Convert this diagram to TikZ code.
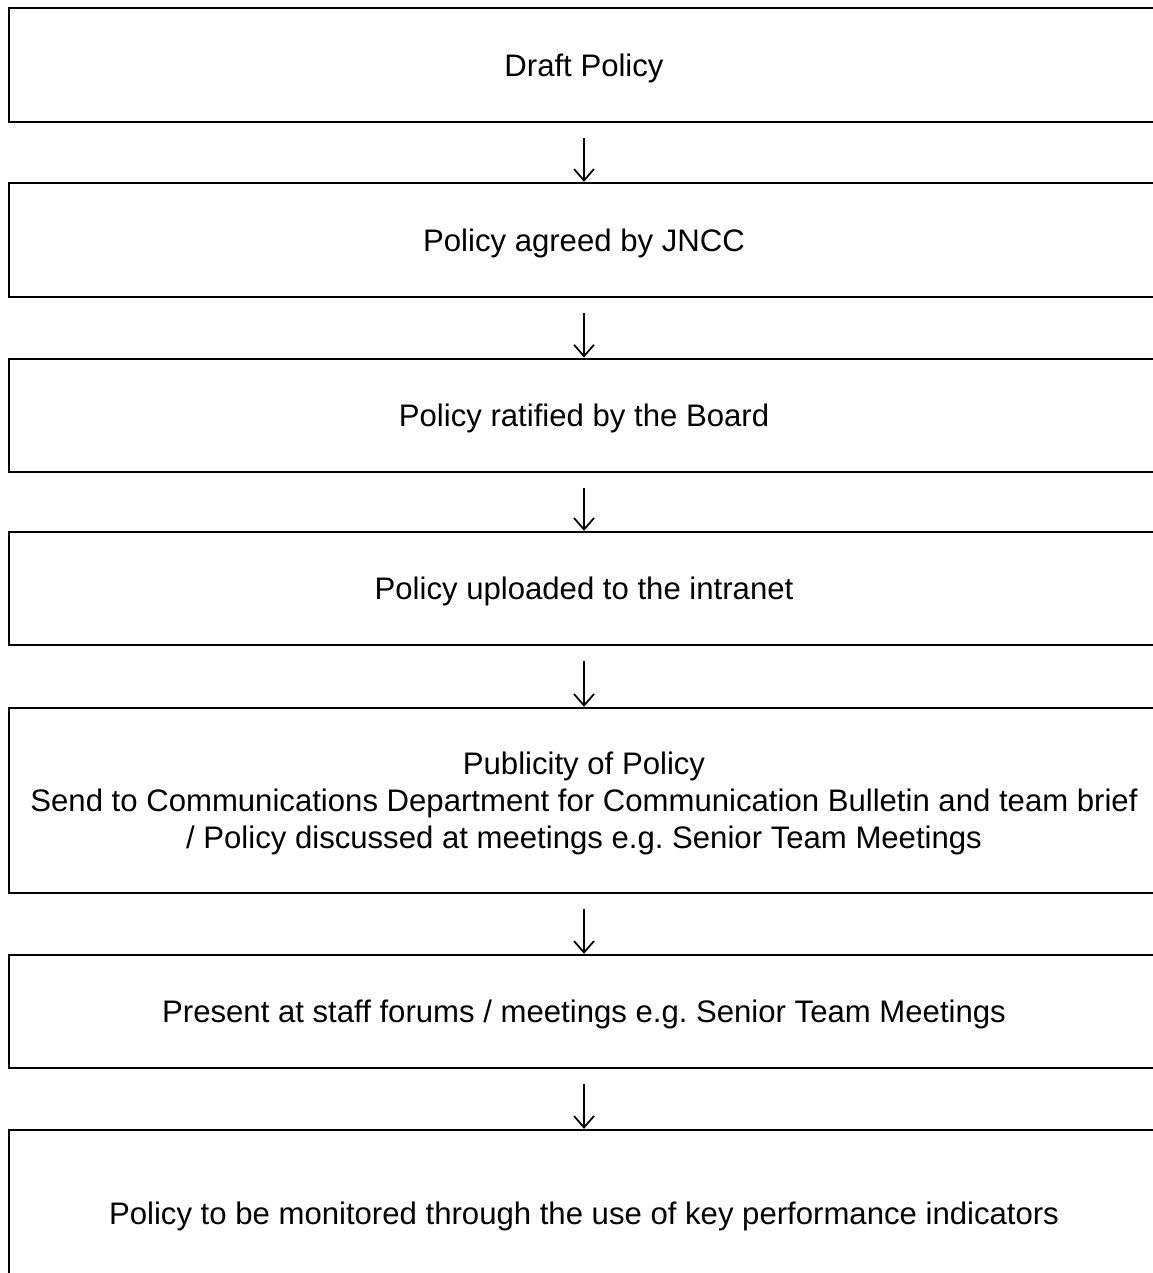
\documentclass[tikz,border=0pt]{standalone}
\usepackage{fontspec}
\setmainfont{Liberation Sans}
\usetikzlibrary{arrows.meta}

\tikzset{
	stepbox/.style={draw=black, line width=0.95pt, rectangle, inner sep=0pt,
		minimum width=460pt, align=center, text depth=0pt,
		font=\fontsize{12.45}{14.8}\selectfont\frenchspacing},
	flowarrow/.style={line width=0.7pt, -{Straight Barb[length=4.6pt,width=8pt]},
		shorten <=6pt}
}

\begin{document}
\begin{tikzpicture}[x=0.4pt, y=-0.4pt]
	\useasboundingbox (0,0) rectangle (1153,1273);
	\clip (0,0) rectangle (1153,1273);
	% Kaesten
	\node[stepbox, minimum height=45.6pt] (draft) at (584, 65) {Draft Policy};
	\node[stepbox, minimum height=45.6pt] (agreed) at (584, 240) {Policy agreed by JNCC};
	\node[stepbox, minimum height=45.4pt] (ratified) at (584, 415.5) {Policy ratified by the Board};
	\node[stepbox, minimum height=45.2pt] (upload) at (584, 588.5) {Policy uploaded to the intranet};
	\node[stepbox, minimum height=74pt] (publicity) at (584, 800.5)
		{Publicity of Policy\\
		Send to Communications Department for Communication Bulletin and team brief\\
		/ Policy discussed at meetings e.g. Senior Team Meetings};
	\node[stepbox, minimum height=45.2pt] (forums) at (584, 1011.5)
		{Present at staff forums / meetings e.g. Senior Team Meetings};
	\node[stepbox, minimum height=66.4pt] (monitor) at (584, 1213)
		{Policy to be monitored through the use of key performance indicators};
	% Pfeile
	\draw[flowarrow] (draft) -- (agreed);
	\draw[flowarrow] (agreed) -- (ratified);
	\draw[flowarrow] (ratified) -- (upload);
	\draw[flowarrow] (upload) -- (publicity);
	\draw[flowarrow] (publicity) -- (forums);
	\draw[flowarrow] (forums) -- (monitor);
\end{tikzpicture}
\end{document}
